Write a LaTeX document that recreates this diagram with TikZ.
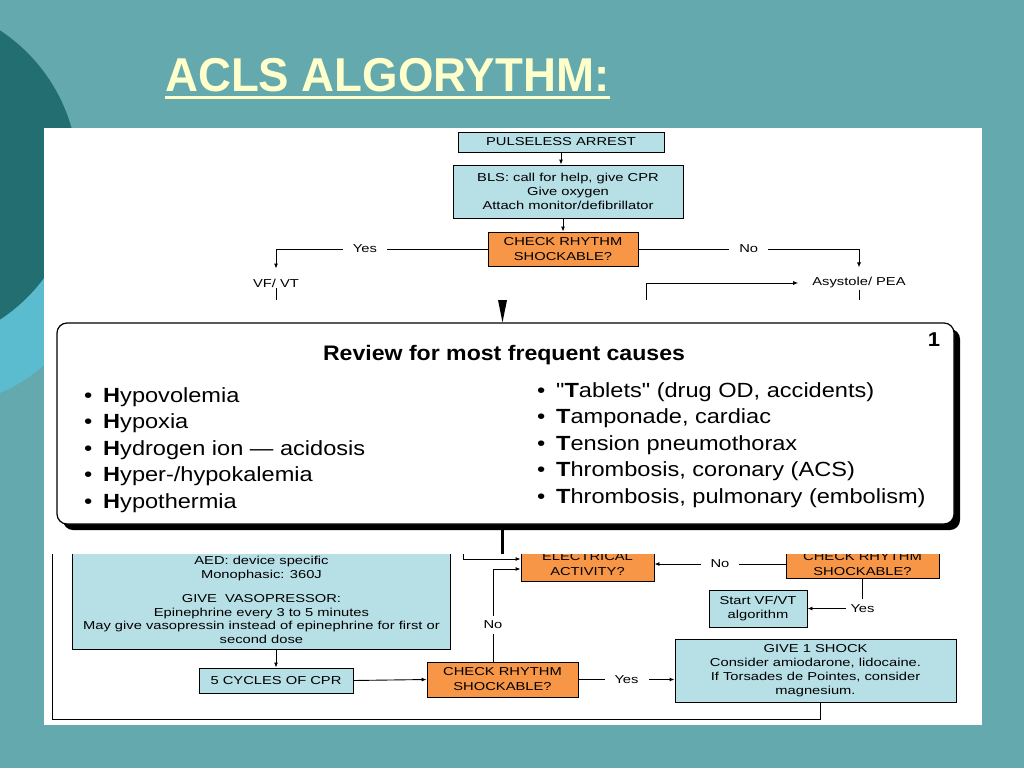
\documentclass[tikz,border=0pt]{standalone}
\usepackage{fontspec}
\setmainfont{Liberation Sans}
\newfontfamily\titlefont[FakeStretch=0.96]{Liberation Sans}
\newfontfamily\flowfont[FakeStretch=1.28]{Liberation Sans}
\newfontfamily\revfont[FakeStretch=1.15]{Liberation Sans}
\newfontfamily\revhead[FakeStretch=1.1]{Liberation Sans}
\usetikzlibrary{arrows.meta,shadows}
\definecolor{slidebg}{RGB}{99,169,173}
\definecolor{circdark}{RGB}{35,110,113}
\definecolor{circlight}{RGB}{92,188,207}
\definecolor{titleyellow}{RGB}{255,255,204}
\definecolor{boxblue}{RGB}{183,223,230}
\definecolor{boxorange}{RGB}{247,150,70}
\begin{document}
\begin{tikzpicture}[x=1pt,y=-1pt,
  flow/.style={font=\flowfont\fontsize{11.5}{13.8}\selectfont, align=center},
  bluebox/.style={flow, draw=black, line width=0.9pt, fill=boxblue, inner sep=1pt},
  orangebox/.style={flow, draw=black, line width=0.9pt, fill=boxorange, inner sep=1pt,
    font=\flowfont\fontsize{11.5}{15}\selectfont},
  lbl/.style={flow, fill=white, inner xsep=10pt, inner ysep=1pt},
  arr/.style={-{Latex[length=5pt,width=4pt]}, line width=0.9pt},
  link/.style={line width=0.9pt},
  cause/.style={font=\revfont\fontsize{20.5}{24}\selectfont, anchor=base west, inner sep=0pt}]
  \useasboundingbox (0,0) rectangle (1024,768);
  % Hintergrund
  \fill[slidebg] (0,0) rectangle (1024,768);
  \fill[circlight] (-60,250) circle[radius=155pt];
  \fill[circdark] (-95,175) circle[radius=173pt];
  % Titel
  \node[font=\titlefont\fontsize{47.5}{50}\selectfont\bfseries, text=titleyellow, anchor=base west, inner sep=0pt]
    (title) at (165,91) {ACLS ALGORYTHM:};
  \draw[titleyellow, line width=3pt] ([yshift=-6pt]title.base west) -- ([yshift=-6pt]title.base east);
  % Blatt
  \fill[white] (44,128) rectangle (982,725);
  % oberer Teil
  \node[bluebox, minimum width=206, minimum height=20] (pulse) at (561,142) {PULSELESS ARREST};
  \node[bluebox, minimum width=230, minimum height=53] (bls) at (568,191.5)
    {BLS: call for help, give CPR\\Give oxygen\\Attach monitor/defibrillator};
  \node[orangebox, minimum width=150, minimum height=34] (chk1) at (563,249) {CHECK RHYTHM\\SHOCKABLE?};
  \node[flow, inner sep=1pt] (vfvt) at (276,283) {VF/ VT};
  \node[flow, inner sep=1pt] (asys) at (859,283) {Asystole/ PEA};
  \coordinate (asyscut) at (646,300);
  \draw[arr] (pulse.south) -- (pulse.south |- bls.north);
  \draw[arr] (chk1.north |- bls.south) -- (chk1.north);
  \draw[arr, shorten >=9pt] (chk1.west) -| (vfvt.north) node[lbl, pos=0.29] {Yes};
  \draw[arr, shorten >=9pt] (chk1.east) -| (asys.north) node[lbl, pos=0.25] {No};
  \draw[arr, shorten >=13pt] (asyscut) |- (asys.west);
  \draw[link] (vfvt.south) -- (vfvt.south |- asyscut);
  \draw[link] (asys.south) -- (asys.south |- asyscut);
  % unterer Teil
  \node[bluebox, minimum width=378, minimum height=110, anchor=south west] (aed) at (72,650) {};
  \node[flow, anchor=south, inner sep=0pt] (aedtext) at ([yshift=6pt]aed.south)
    {AED: device specific\\Monophasic: 360J\\[10pt]GIVE\ \ VASOPRESSOR:\\Epinephrine every 3 to 5 minutes\\
     May give vasopressin instead of epinephrine for first or\\second dose};
  \node[bluebox, minimum width=154, minimum height=25] (cpr) at (276,680.5) {5 CYCLES OF CPR};
  \node[orangebox, minimum width=151, minimum height=35] (chk3) at (502.5,679.5) {CHECK RHYTHM\\SHOCKABLE?};
  \node[bluebox, minimum width=281, minimum height=63] (shock) at (815.5,670.5)
    {GIVE 1 SHOCK\\Consider amiodarone, lidocaine.\\If Torsades de Pointes, consider\\magnesium.};
  \node[orangebox, minimum width=133, minimum height=34] (elec) at (587.5,564) {ELECTRICAL\\ACTIVITY?};
  \node[orangebox, minimum width=153, minimum height=28] (chk2) at (862.5,564) {CHECK RHYTHM\\SHOCKABLE?};
  \node[bluebox, minimum width=98, minimum height=37] (start) at (758,608.5) {Start VF/VT\\algorithm};
  \coordinate (eleccut) at (463,554);
  \coordinate (loopcut) at (52,554);
  \coordinate (loopcorner) at (52,719);
  \draw[arr] (aed.south -| cpr.north) -- (cpr.north);
  \draw[arr] (cpr.east) -- (chk3.west);
  \draw[arr] (chk3.east) -- (chk3.east -| shock.west) node[lbl, midway] {Yes};
  \draw[arr] ([xshift=-9.5pt]chk3.north) |- ([yshift=-5pt]elec.west)
    node[lbl, pos=0.2, inner xsep=1pt, inner ysep=5pt] {No};
  \draw[arr] (eleccut) |- ([yshift=5pt]elec.west);
  \draw[arr] (chk2.west) -- (elec.east) node[lbl, midway] {No};
  \draw[arr] (chk2.south) |- (start.east) node[lbl, pos=0.5, inner xsep=5pt, inner ysep=5pt] {Yes};
  \draw[link] ([xshift=5pt]shock.south) |- (loopcorner) -- (loopcut);
  % eingefuegtes Bild
  \fill[white] (44,300) rectangle (982,554);
  \coordinate (revtop) at (502.5,300);
  \node[draw, line width=1.2pt, rounded corners=10pt, fill=white, minimum width=897, minimum height=201,
    drop shadow={shadow xshift=6pt, shadow yshift=-6pt, fill=black, opacity=1}] (review) at (505.5,423.5) {};
  \fill ([xshift=-4.5pt]revtop) -- ([xshift=4.5pt]revtop) -- (review.north -| revtop) -- cycle;
  \draw[line width=2.7pt] (review.south -| revtop) -- (revtop |- eleccut);
  \node[font=\revhead\bfseries\fontsize{21}{24}\selectfont, anchor=base, inner sep=0pt]
    (revtitle) at (504,360) {Review for most frequent causes};
  \node[font=\revhead\bfseries\fontsize{20}{24}\selectfont] (revnum) at (934,340) {1};
  \foreach \cause [count=\i] in {{\textbf{H}ypovolemia}, {\textbf{H}ypoxia},
      {\textbf{H}ydrogen ion — acidosis}, {\textbf{H}yper-/hypokalemia}, {\textbf{H}ypothermia}}
    \node[cause] (left\i) at (84,{375.5+26.5*\i}) {\makebox[19pt][l]{•}\cause};
  \foreach \cause [count=\i] in {{"\textbf{T}ablets" (drug OD, accidents)}, {\textbf{T}amponade, cardiac},
      {\textbf{T}ension pneumothorax}, {\textbf{T}hrombosis, coronary (ACS)},
      {\textbf{T}hrombosis, pulmonary (embolism)}}
    \node[cause] (right\i) at (537,{370.5+26.5*\i}) {\makebox[19pt][l]{•}\cause};
\end{tikzpicture}
\end{document}
